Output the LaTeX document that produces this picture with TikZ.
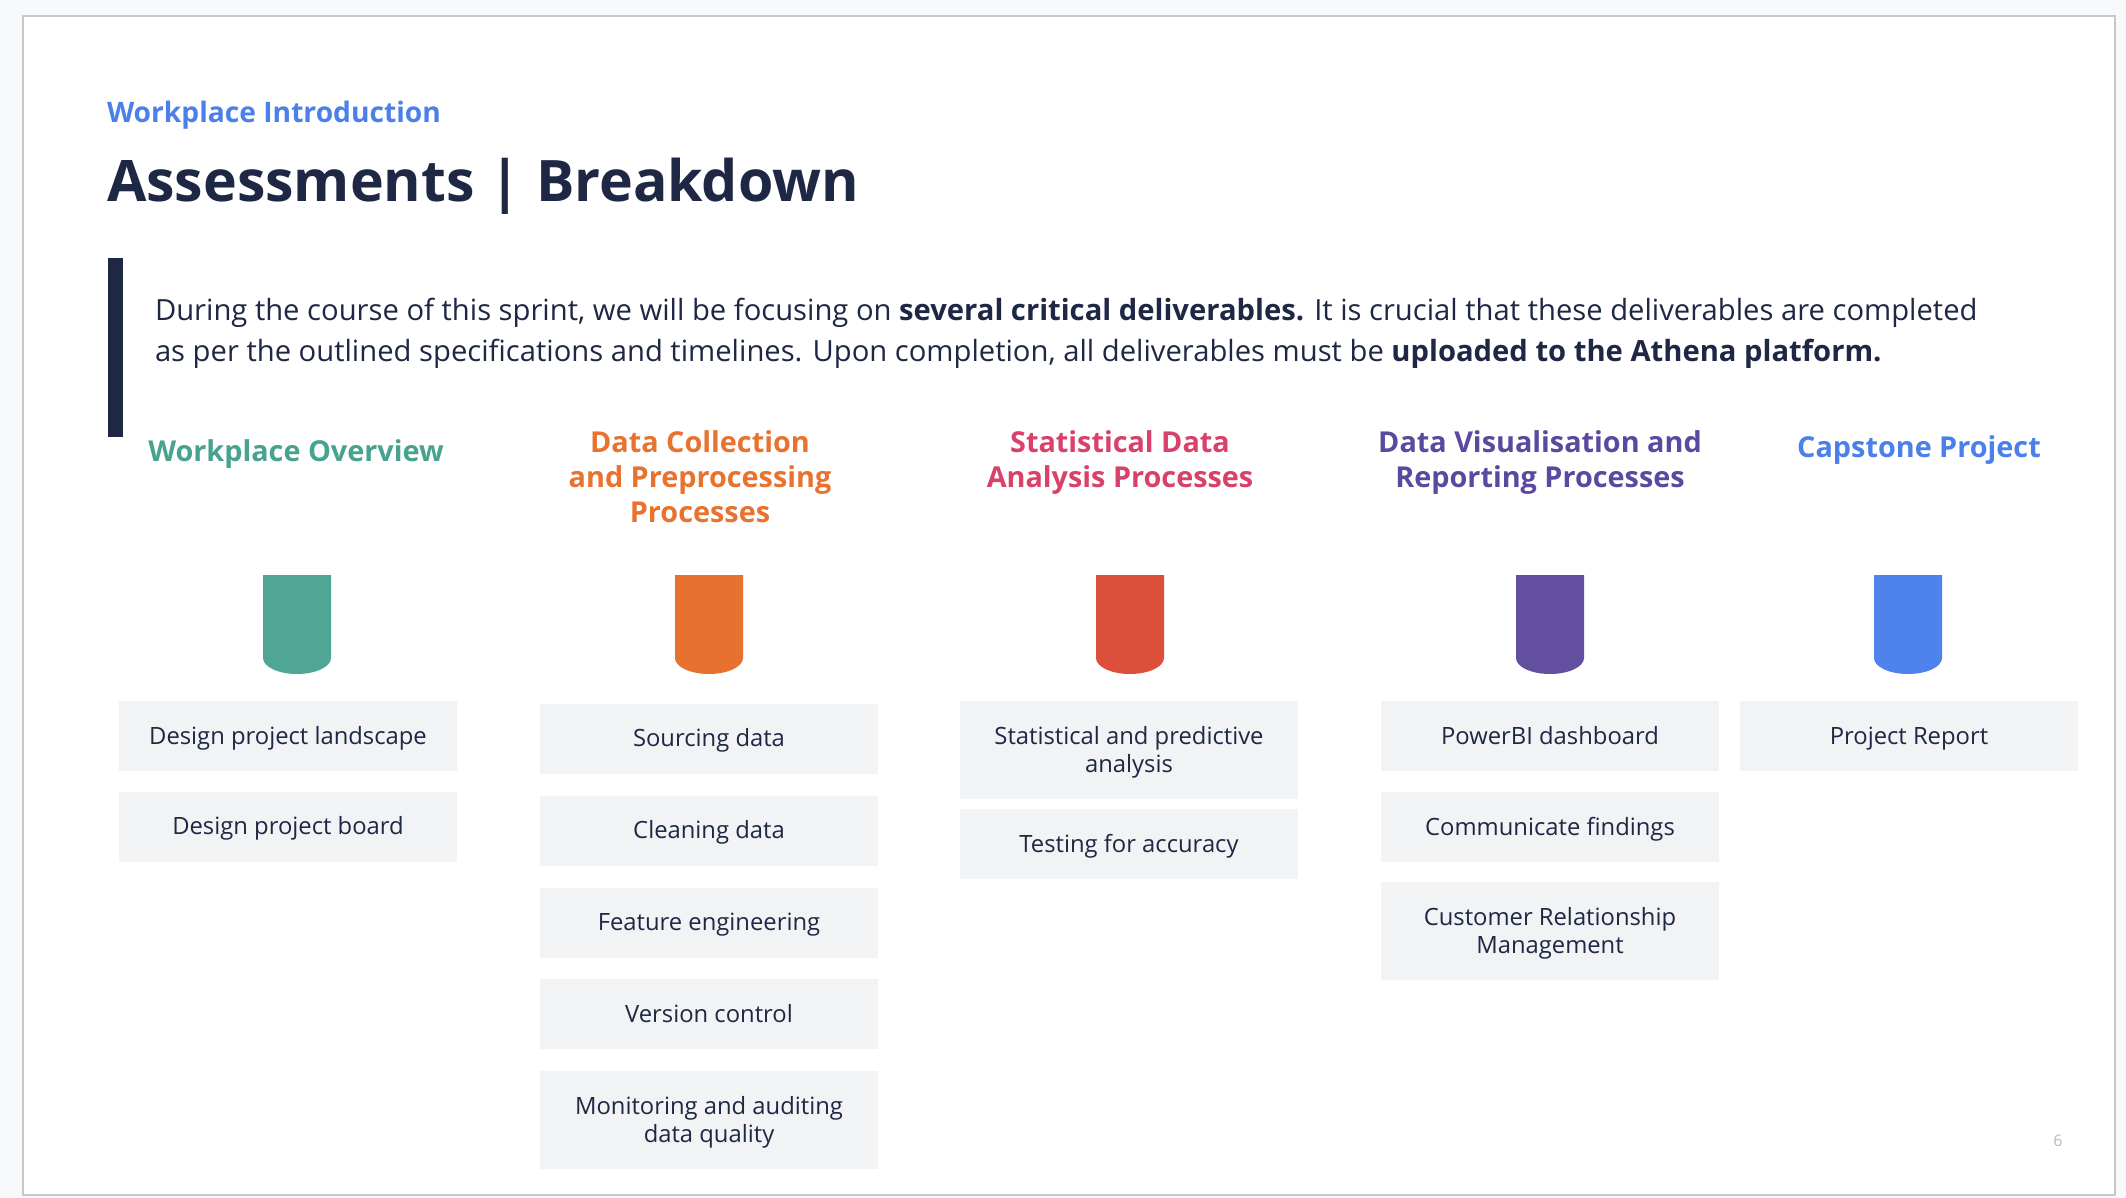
\documentclass[tikz,border=0pt]{standalone}
\usepackage{fontspec}
\setmainfont{Open Sans}

\definecolor{pagebg}{HTML}{F8F9FB}
\definecolor{framegray}{HTML}{C6C7C9}
\definecolor{navy}{HTML}{1E2744}
\definecolor{boxfill}{HTML}{F2F3F5}
\definecolor{cblue}{HTML}{4B7FE9}
\definecolor{cgreen}{HTML}{47A290}
\definecolor{corange}{HTML}{E8722E}
\definecolor{cred}{HTML}{D9416A}
\definecolor{cpurple}{HTML}{5B49A0}
\definecolor{tgreen}{HTML}{50A695}
\definecolor{torange}{HTML}{E7722F}
\definecolor{tred}{HTML}{DC4F3B}
\definecolor{tpurple}{HTML}{634FA0}
\definecolor{tblue}{HTML}{4E83EC}
\definecolor{pagenum}{HTML}{B6BAC4}

\tikzset{
  txt/.style={inner sep=0pt, outer sep=0pt, text=navy},
  hdr/.style={inner sep=0pt, anchor=base, font=\fontsize{28.8}{35}\selectfont\bfseries},
  item/.style={rectangle, fill=boxfill, inner sep=0pt, minimum width=338pt,
    text=navy, font=\fontsize{23.8}{28}\selectfont},
  one/.style={item, minimum height=70pt, text height=17.8pt, text depth=1.5pt},
  two/.style={item, minimum height=98pt},
}

% two centred lines, 28pt apart, with the first baseline 6pt above the middle
\newcommand{\stacklines}[2]{%
  \begin{tabular}{@{}c@{}}\rule{0pt}{24.4pt}#1\\#2\end{tabular}}

% rounded test-tube marker: straight sides, elliptic bottom
\newcommand{\tubemark}[2]{%
  \fill[#2] (#1-34,575) -- (#1+34,575) -- (#1+34,658)
    arc[start angle=0, end angle=-180, x radius=34pt, y radius=16pt] -- cycle;}

\begin{document}
\begin{tikzpicture}[x=1pt, y=-1pt]
\useasboundingbox (0,0) rectangle (2126,1198);
\fill[pagebg] (0,0) rectangle (2126,1198);
\draw[framegray, line width=2pt, fill=white] (23,16) rectangle (2115,1195);

% heading
\node[txt, anchor=base west, text=cblue, font=\fontsize{28.2}{34}\selectfont\bfseries]
  (kicker) at (107,122.7) {Workplace Introduction};
\node[txt, anchor=base west, font=\fontsize{57.2}{66}\selectfont\bfseries]
  (title) at (107,202) {Assessments | Breakdown};

% intro paragraph with its accent bar
\fill[navy] (108,258) rectangle (123,437);
\node[txt, anchor=base west, font=\fontsize{29.2}{41}\selectfont] (para1) at (155,320.5)
  {During the course of this sprint, we will be focusing on \textbf{several critical deliverables.} It is crucial that these deliverables are completed};
\node[txt, anchor=base west, font=\fontsize{29.2}{41}\selectfont] (para2) at (155,361)
  {as per the outlined specifications and timelines. Upon completion, all deliverables must be \textbf{uploaded to the Athena platform.}};

% column headers
\node[hdr, text=cgreen] (h1) at (296,461.5)
  {\begin{tabular}[t]{@{}c@{}}Workplace Overview\end{tabular}};
\node[hdr, text=corange] (h2) at (700,452.7)
  {\begin{tabular}[t]{@{}c@{}}Data Collection\\and Preprocessing\\Processes\end{tabular}};
\node[hdr, text=cred] (h3) at (1120,452.7)
  {\begin{tabular}[t]{@{}c@{}}Statistical Data\\Analysis Processes\end{tabular}};
\node[hdr, text=cpurple] (h4) at (1540,452.7)
  {\begin{tabular}[t]{@{}c@{}}Data Visualisation and\\Reporting Processes\end{tabular}};
\node[hdr, text=cblue] (h5) at (1919,457)
  {\begin{tabular}[t]{@{}c@{}}Capstone Project\end{tabular}};

% markers
\tubemark{297}{tgreen}
\tubemark{709}{torange}
\tubemark{1130}{tred}
\tubemark{1550}{tpurple}
\tubemark{1908}{tblue}

% column 1
\node[one] (a1) at (288,736) {Design project landscape};
\node[one] (a2) at (288,826.5) {Design project board};
% column 2
\node[one] (b1) at (709,738.5) {Sourcing data};
\node[one] (b2) at (709,830.5) {Cleaning data};
\node[one] (b3) at (709,922.5) {Feature engineering};
\node[one] (b4) at (709,1014) {Version control};
\node[two] (b5) at (709,1120) {\stacklines{Monitoring and auditing}{data quality}};
% column 3
\node[two] (c1) at (1129,750) {\stacklines{Statistical and predictive}{analysis}};
\node[one] (c2) at (1129,844) {Testing for accuracy};
% column 4
\node[one] (d1) at (1550,736) {PowerBI dashboard};
\node[one] (d2) at (1550,827) {Communicate findings};
\node[two] (d3) at (1550,931) {\stacklines{Customer Relationship}{Management}};
% column 5
\node[one] (e1) at (1909,736) {Project Report};

% page number
\node[txt, text=pagenum, font=\fontsize{16}{18}\selectfont] (pg) at (2058,1141) {6};
\end{tikzpicture}
\end{document}
